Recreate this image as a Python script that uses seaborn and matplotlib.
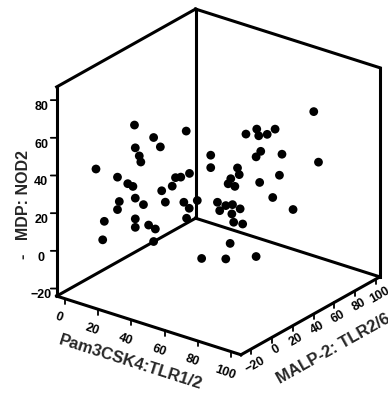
import numpy as np
import pandas as pd
import matplotlib
matplotlib.use("Agg")
import matplotlib.pyplot as plt
import seaborn as sns

# ---- data (depth is an estimate) ----
pam3csk4 = [21.7, 28.3, 30.6, 22.0, 23.4, 23.9, 39.5, 8.5, 15.9, 19.4, 21.2, 35.8, 37.6, 40.6,
            34.7, 31.1, 22.0, 16.5, 15.9, 24.8, 32.3, 38.7, 40.5, 43.3, 39.6, 22.0, 22.0, 26.6,
            28.9, 11.4, 10.8, 28.3,
            83.3, 63.7, 60.0, 64.4, 67.3, 70.0, 47.9, 47.9, 65.1, 63.5, 72.4, 84.9, 57.1, 57.7,
            54.8, 53.9, 56.2, 64.7, 71.5, 69.2, 76.2, 50.2, 51.0, 53.1, 55.4, 58.0, 55.2, 55.8,
            58.9, 54.6, 44.8, 53.1, 63.5]
malp2 = [2.3, 10.2, 13.0, 2.6, 4.2, 4.9, 23.7, -13.7, -4.8, -0.5, 1.6, 19.3, 21.5, 25.1,
         17.9, 13.5, 2.6, -4.0, -4.8, 6.0, 15.1, 22.7, 25.0, 28.3, 23.9, 2.6, 2.6, 8.1,
         10.9, -10.3, -10.9, 10.2,
         76.6, 53.0, 48.5, 53.8, 57.3, 60.6, 33.9, 33.9, 54.6, 52.7, 63.4, 78.6, 45.0, 45.7,
         42.2, 41.1, 43.9, 54.2, 62.4, 59.6, 68.0, 36.7, 37.6, 40.1, 42.9, 46.1, 42.6, 43.4,
         47.1, 41.9, 30.1, 40.1, 52.7]
mdp = [64.3, 57.1, 51.9, 52.2, 47.8, 44.5, 59.5, 42.2, 37.2, 33.4, 31.8, 35.1, 35.2, 36.9,
       30.7, 28.6, 25.5, 24.2, 20.0, 21.8, 22.4, 21.8, 18.4, 22.3, 13.2, 14.5, 10.0, 10.8,
       8.5, 14.2, 4.4, 1.9,
       65.8, 58.3, 56.0, 54.7, 55.2, 57.7, 45.9, 39.3, 46.4, 43.6, 44.2, 38.8, 38.3, 34.7,
       32.8, 30.2, 28.6, 29.9, 33.1, 21.5, 14.5, 20.7, 16.2, 18.7, 19.0, 16.5, 14.1, 9.6,
       8.4, -1.5, -8.6, -9.6, -9.3]

x_ticks = [0, 20, 40, 60, 80, 100]
y_ticks = [-20, 0, 20, 40, 60, 80, 100]
z_ticks = [-20, 0, 20, 40, 60, 80]
x_lim = (-5, 106)
y_lim = (-30, 104)
z_lim = (-24, 87)

x_label = "Pam3CSK4:TLR1/2"
y_label = "MALP-2: TLR2/6"
z_label = "-   MDP: NOD2     "

df = pd.DataFrame({"Pam3CSK4": pam3csk4, "MALP2": malp2, "MDP": mdp})

sns.set_theme(style="white")
plt.rcParams["font.family"] = ["Liberation Sans", "DejaVu Sans"]
plt.rcParams["font.weight"] = "bold"
for a in ("xtick", "ytick"):
    plt.rcParams[f"{a}.color"] = "black"

fig = plt.figure(figsize=(3.88, 3.94), dpi=100)
ax = fig.add_axes([0.049, 0.025, 1.0, 1.0], projection="3d")
ax.set_proj_type("ortho")
ax.view_init(elev=25, azim=-53)
ax.set_box_aspect((1, 1, 1), zoom=1.0)

ax.scatter(df["Pam3CSK4"], df["MALP2"], df["MDP"], s=40, c="black",
           depthshade=False, edgecolors="none", alpha=1)

# frame of the three back walls
x0, x1 = x_lim
y0, y1 = y_lim
z0, z1 = z_lim
edges = [
    ((x0, x0), (y0, y1), (z0, z0)), ((x0, x0), (y0, y1), (z1, z1)),
    ((x0, x0), (y0, y0), (z0, z1)), ((x0, x0), (y1, y1), (z0, z1)),
    ((x0, x1), (y1, y1), (z0, z0)), ((x0, x1), (y1, y1), (z1, z1)),
    ((x1, x1), (y1, y1), (z0, z1)),
    ((x0, x1), (y0, y0), (z0, z0)), ((x1, x1), (y0, y1), (z0, z0)),
]
for ex, ey, ez in edges:
    ax.plot(ex, ey, ez, color="black", lw=2.2, solid_capstyle="projecting")

# short tick marks: straight down for the floor axes, to the left for the vertical axis
tick_drop = 0.025 * (z1 - z0)
for t in x_ticks:
    ax.plot((t, t), (y0, y0), (z0, z0 - tick_drop), color="black", lw=1.3)
for t in y_ticks:
    ax.plot((x1, x1), (t, t), (z0, z0 - tick_drop), color="black", lw=1.3)
for t in z_ticks:
    ax.plot((x0, x0 - 0.032 * (x1 - x0)), (y0, y0), (t, t - 0.009 * (z1 - z0)),
            color="black", lw=1.3)

ax.set_xlim(*x_lim)
ax.set_ylim(*y_lim)
ax.set_zlim(*z_lim)
ax.set_xticks(x_ticks)
ax.set_yticks(y_ticks)
ax.set_zticks(z_ticks)
ax.grid(False)

for axis in (ax.xaxis, ax.yaxis, ax.zaxis):
    axis.set_pane_color((1, 1, 1, 1))
    axis.pane.set_edgecolor((1, 1, 1, 0))
    axis.line.set_color((1, 1, 1, 0))
    axis._axinfo["tick"]["inward_factor"] = 0.0
    axis._axinfo["tick"]["outward_factor"] = 0.0

ax.zaxis.set_ticks_position("lower")
ax.zaxis.set_label_position("lower")

ax.tick_params(axis="both", labelsize=9, colors="black", pad=-2)
ax.tick_params(axis="y", pad=-5)
ax.tick_params(axis="z", pad=-1)
for lab in ax.get_xticklabels():
    lab.set_fontweight("bold")
    lab.set_rotation(-20)
for lab in ax.get_yticklabels():
    lab.set_fontweight("bold")
    lab.set_rotation(30)
for lab in ax.get_zticklabels():
    lab.set_fontweight("bold")

ax.set_xlabel(x_label, fontsize=12, fontweight="bold", labelpad=-2)
ax.set_ylabel(y_label, fontsize=12, fontweight="bold", labelpad=-3)
ax.set_zlabel(z_label, fontsize=11.5, fontweight="bold", labelpad=-6)

fig.savefig("out.png", dpi=100, facecolor="white")
